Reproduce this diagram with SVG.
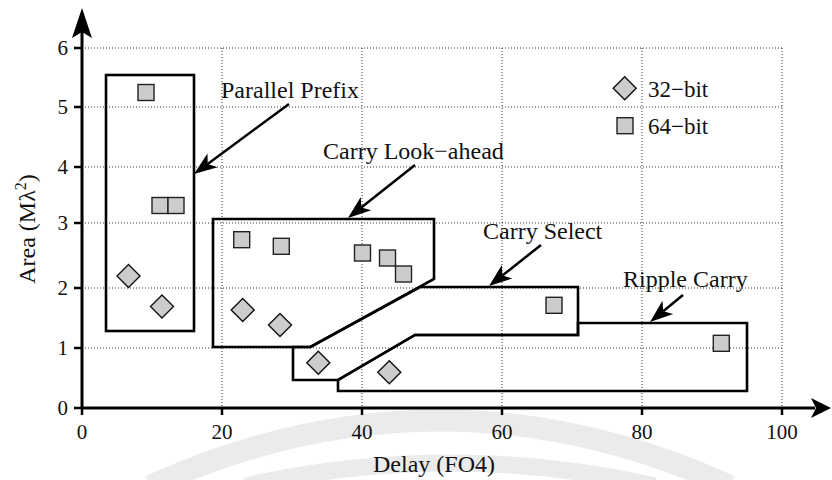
<svg xmlns="http://www.w3.org/2000/svg" width="832" height="480" viewBox="0 0 832 480">
  <style>
    text { font-family: "Liberation Serif", "Times New Roman", serif; fill: #111; }
    .tick { font-size: 21px; }
    .lbl { font-size: 24px; }
    .leg { font-size: 23px; }
    .grid { stroke: #333; stroke-width: 1; stroke-dasharray: 1 2; fill: none; }
    .axis { stroke: #000; stroke-width: 3; fill: none; }
    .tk { stroke: #000; stroke-width: 2.5; }
    .region { fill: none; stroke: #000; stroke-width: 2.6; stroke-linejoin: miter; }
    .sq { fill: #cccccc; stroke: #222; stroke-width: 1.4; }
    .dm { fill: #cccccc; stroke: #111; stroke-width: 1.4; }
    .ptr { stroke: #000; stroke-width: 2.5; fill: none; marker-end: url(#head); }
    .seal { fill: none; stroke: #ebebeb; }
  </style>
  <defs>
    <marker id="head" markerUnits="userSpaceOnUse" viewBox="-24 -10 26 20" markerWidth="26" markerHeight="20" refX="-17" refY="0" orient="auto">
      <path d="M0,0 L-23,-8.5 L-17,0 L-23,8.5 Z" fill="#000"/>
    </marker>
    <rect id="s" x="-8" y="-8" width="16" height="16" class="sq"/>
    <path id="d" d="M0,-11.5 L11.5,0 L0,11.5 L-11.5,0 Z" class="dm"/>
  </defs>

  <rect width="832" height="480" fill="#fff"/>

  <!-- faint background seal bands -->
  <g id="seal">
    <path class="seal" stroke-width="22" d="M150,486 Q440,355 730,486"/>
    <path class="seal" stroke-width="17" d="M245,486 Q450,440 655,486"/>
  </g>

  <!-- grid -->
  <g id="grid">
    <path class="grid" d="M82,48H782 M82,107H782 M82,167H782 M82,223H782 M82,288H782 M82,348H782"/>
    <path class="grid" d="M222,48V408 M362,48V408 M502,48V408 M642,48V408 M782,48V408"/>
  </g>

  <!-- axes -->
  <g id="axes">
    <path class="axis" d="M82,408V30"/>
    <path class="axis" d="M82,408H815"/>
    <path d="M82,8 L92,38 L82,32 L72,38 Z" fill="#000"/>
    <path d="M831,408 L811,398 L816,408 L811,418 Z" fill="#000"/>
    <path class="tk" d="M74,48H82 M74,107H82 M74,167H82 M74,223H82 M74,288H82 M74,348H82 M74,408H82"/>
    <path class="tk" d="M82,408V415 M222,408V415 M362,408V415 M502,408V415 M642,408V415 M782,408V415"/>
    <g class="tick" text-anchor="end">
      <text x="68" y="415">0</text>
      <text x="68" y="355">1</text>
      <text x="68" y="295">2</text>
      <text x="68" y="230">3</text>
      <text x="68" y="174">4</text>
      <text x="68" y="114">5</text>
      <text x="68" y="55">6</text>
    </g>
    <g class="tick" text-anchor="middle">
      <text x="82" y="439">0</text>
      <text x="222" y="439">20</text>
      <text x="362" y="439">40</text>
      <text x="502" y="439">60</text>
      <text x="642" y="439">80</text>
      <text x="782" y="439">100</text>
    </g>
    <text class="lbl" x="434" y="472" text-anchor="middle">Delay (FO4)</text>
    <text class="lbl" transform="translate(35,229) rotate(-90)" text-anchor="middle">Area (Mλ<tspan dy="-9" font-size="16">2</tspan><tspan dy="9">)</tspan></text>
  </g>

  <!-- adder families -->
  <g id="parallel-prefix">
    <rect class="region" x="106" y="75" width="88" height="256"/>
    <use href="#s" x="146" y="92.5"/>
    <use href="#s" x="160" y="205.5"/>
    <use href="#s" x="176" y="205.5"/>
    <use href="#d" x="128.5" y="276"/>
    <use href="#d" x="162" y="306.5"/>
    <text class="lbl" x="221" y="98">Parallel Prefix</text>
  </g>

  <g id="carry-lookahead">
    <path class="region" d="M213,219 H434 V279 L310.5,347 H213 Z"/>
    <use href="#s" x="241.7" y="239.7"/>
    <use href="#s" x="281.3" y="246.3"/>
    <use href="#s" x="362.5" y="253"/>
    <use href="#s" x="387.5" y="258"/>
    <use href="#s" x="403.5" y="274"/>
    <use href="#d" x="242.7" y="310"/>
    <use href="#d" x="280" y="325"/>
    <text class="lbl" x="323" y="159">Carry Look−ahead</text>
  </g>

  <g id="carry-select">
    <path class="region" d="M420,287 H578 V335 H415 L338,380 H293 V347 H310.5 Z"/>
    <use href="#d" x="318.3" y="362.7"/>
    <use href="#s" x="554" y="305.3"/>
    <text class="lbl" x="483" y="238.5">Carry Select</text>
  </g>

  <g id="ripple-carry">
    <path class="region" d="M415,335 H578 V323 H747 V391 H338 V380 Z"/>
    <use href="#d" x="389.3" y="372.3"/>
    <use href="#s" x="721.3" y="343.3"/>
    <text class="lbl" x="623" y="286.5">Ripple Carry</text>
  </g>

  <g id="legend">
    <use href="#d" x="624.7" y="88.3"/>
    <text class="leg" x="648" y="97">32−bit</text>
    <use href="#s" x="625" y="125.7"/>
    <text class="leg" x="648" y="134">64−bit</text>
  </g>

  <!-- label pointers -->
  <g id="connectors">
    <path class="ptr" d="M289,104 L207.7,163.9"/>
    <path class="ptr" d="M415,165 L361.3,207.4"/>
    <path class="ptr" d="M541,245 L502.4,275.5"/>
    <path class="ptr" d="M683,295 L663.2,311.2"/>
  </g>
</svg>
